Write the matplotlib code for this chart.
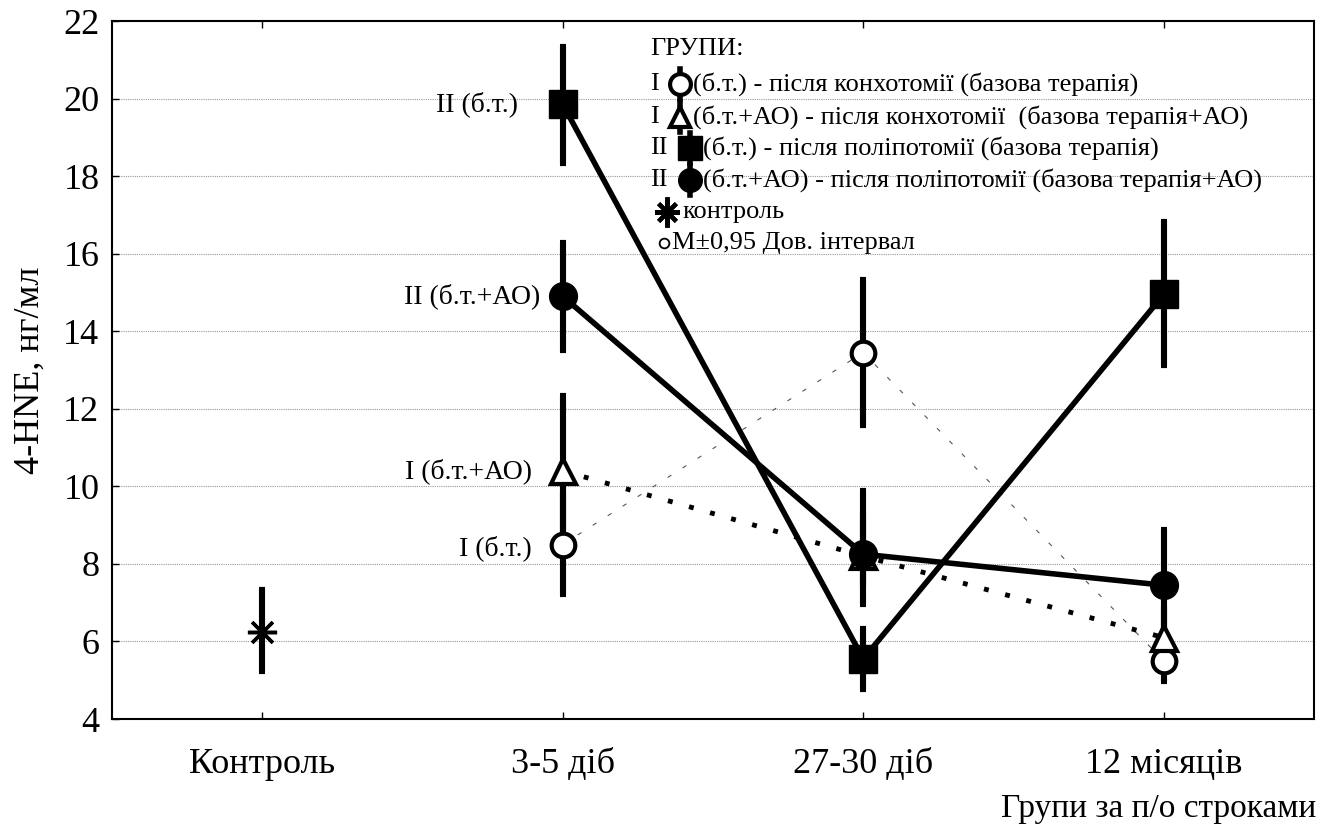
import numpy as np
import matplotlib
matplotlib.use("Agg")
import matplotlib.pyplot as plt

plt.rcParams['font.family'] = ['Liberation Serif', 'DejaVu Serif']

categories = ['Контроль', '3-5 діб', '27-30 діб', '12 місяців']

# контроль
control_mean = [6.25]
control_low = [5.2]
control_high = [7.35]

# I (б.т.) - open circle
i_bt_mean = [8.5, 13.45, 5.5]
i_bt_low = [7.2, 11.55, 4.95]
i_bt_high = [9.85, 15.35, 6.1]

# I (б.т.+АО) - triangle
i_ao_mean = [10.4, 8.2, 6.1]
i_ao_low = [8.5, 7.4, 5.3]
i_ao_high = [12.35, 9.3, 6.9]

# II (б.т.) - filled square
ii_bt_mean = [19.85, 5.55, 14.95]
ii_bt_low = [18.3, 4.75, 13.1]
ii_bt_high = [21.35, 6.35, 16.85]

# II (б.т.+АО) - filled circle
ii_ao_mean = [14.9, 8.25, 7.45]
ii_ao_low = [13.5, 6.95, 6.0]
ii_ao_high = [16.3, 9.9, 8.9]

legend_rows = [
    'ГРУПИ:',
    '(б.т.) - після конхотомії (базова терапія)',
    '(б.т.+АО) - після конхотомії  (базова терапія+АО)',
    '(б.т.) - після поліпотомії (базова терапія)',
    '(б.т.+АО) - після поліпотомії (базова терапія+АО)',
    'контроль',
    'M±0,95 Дов. інтервал',
]

W, H = 1331, 836
fig = plt.figure(figsize=(W / 100, H / 100), dpi=100)
ax = fig.add_axes([112 / W, 1 - 719 / H, (1314 - 112) / W, (719 - 21) / H])

x_ser = np.array([1, 2, 3])


def err(mean, low, high):
    mean = np.array(mean)
    return [mean - np.array(low), np.array(high) - mean]


eb_kw = dict(fmt='none', ecolor='black', elinewidth=4.4, capsize=2.2, capthick=3, zorder=3)

ax.errorbar([0], control_mean, yerr=err(control_mean, control_low, control_high), **eb_kw)
ax.errorbar(x_ser, i_bt_mean, yerr=err(i_bt_mean, i_bt_low, i_bt_high), **eb_kw)
ax.errorbar(x_ser, i_ao_mean, yerr=err(i_ao_mean, i_ao_low, i_ao_high), **eb_kw)
ax.errorbar(x_ser, ii_bt_mean, yerr=err(ii_bt_mean, ii_bt_low, ii_bt_high), **eb_kw)
ax.errorbar(x_ser, ii_ao_mean, yerr=err(ii_ao_mean, ii_ao_low, ii_ao_high), **eb_kw)

# connecting lines
ax.plot(x_ser, i_bt_mean, color='#555555', lw=0.8, ls=(0, (4, 12)), zorder=2)
ax.plot(x_ser, i_ao_mean, color='black', lw=3.5, ls=(0, (1, 3.5)), zorder=2)
ax.plot(x_ser, ii_bt_mean, color='black', lw=4, zorder=2)
ax.plot(x_ser, ii_ao_mean, color='black', lw=4, zorder=2)

# markers
ax.plot([0], control_mean, ls='none', marker=(8, 2, 0), ms=21, mew=2.5, color='black', zorder=5)
ax.plot(x_ser, i_bt_mean, ls='none', marker='o', ms=17, mew=3, mfc='white', mec='black', zorder=5)
ax.plot(x_ser, i_ao_mean, ls='none', marker='^', ms=18, mew=3, mfc='white', mec='black', zorder=5)
ax.plot(x_ser, ii_bt_mean, ls='none', marker='s', ms=20, color='black', zorder=5)
ax.plot(x_ser, ii_ao_mean, ls='none', marker='o', ms=20, color='black', zorder=6)

# point labels at 3-5 діб
lab_fs = 20
ax.annotate('II (б.т.)', (1, ii_bt_mean[0]), xytext=(-32, 0), textcoords='offset points',
            ha='right', va='center', fontsize=lab_fs)
ax.annotate('II (б.т.+АО)', (1, ii_ao_mean[0]), xytext=(-16, 0), textcoords='offset points',
            ha='right', va='center', fontsize=lab_fs)
ax.annotate('I (б.т.+АО)', (1, i_ao_mean[0]), xytext=(-22, 0), textcoords='offset points',
            ha='right', va='center', fontsize=lab_fs)
ax.annotate('I (б.т.)', (1, i_bt_mean[0]), xytext=(-22, -3), textcoords='offset points',
            ha='right', va='center', fontsize=lab_fs)

ax.set_xlim(-0.5, 3.5)
ax.set_ylim(4, 22)
ax.set_yticks(np.arange(4, 23, 2))
ax.set_xticks(range(4))
ax.set_xticklabels(categories)
ax.tick_params(axis='both', direction='in', labelsize=26, length=5, width=1)
ax.tick_params(axis='x', top=True, pad=21)
ax.tick_params(axis='y', pad=9)
for s in ax.spines.values():
    s.set_linewidth(1.5)
for yv in range(6, 22, 2):
    ax.axhline(yv, color='#999999', lw=0.8, ls=(0, (1, 1)), zorder=0)

fig.text(30 / W, 1 - 370 / H, '4-HNE, нг/мл', rotation=90, ha='center', va='center', fontsize=26)
fig.text(1316 / W, 1 - 809 / H, 'Групи за п/о строками', ha='right', va='center', fontsize=24)

# legend drawn by hand
def fx(px):
    return px / W


def fy(py):
    return 1 - py / H


leg_fs = 19
rows_y = [49, 84, 117, 148, 180, 212, 243]
fig.text(fx(650), fy(rows_y[0]), legend_rows[0], ha='left', va='center', fontsize=leg_fs)
sym = [
    ('I', 680, dict(marker='o', ms=15, mew=3, mfc='white', mec='black')),
    ('I', 680, dict(marker='^', ms=15, mew=3, mfc='white', mec='black')),
    ('II', 690, dict(marker='s', ms=17, color='black')),
    ('II', 690, dict(marker='o', ms=17, color='black')),
]
for i, (pref, sx, kw) in enumerate(sym):
    yy = rows_y[i + 1]
    fig.text(fx(650), fy(yy), pref, ha='left', va='center', fontsize=leg_fs)
    fig.add_artist(plt.Line2D([fx(sx), fx(sx)], [fy(yy - 15), fy(yy + 15)], color='black', lw=4, zorder=1))
    fig.add_artist(plt.Line2D([fx(sx)], [fy(yy)], ls='none', zorder=2, **kw))
    fig.text(fx(sx + 13), fy(yy), legend_rows[i + 1], ha='left', va='center', fontsize=leg_fs)
yy = rows_y[5]
fig.add_artist(plt.Line2D([fx(667), fx(667)], [fy(yy - 13), fy(yy + 13)], color='black', lw=3.5))
fig.add_artist(plt.Line2D([fx(667)], [fy(yy)], ls='none', marker=(8, 2, 0), ms=18, mew=3, color='black'))
fig.text(fx(682), fy(yy), legend_rows[5], ha='left', va='center', fontsize=leg_fs)
yy = rows_y[6]
fig.add_artist(plt.Line2D([fx(664)], [fy(yy)], ls='none', marker='o', ms=7, mew=1.3, mfc='white', mec='black'))
fig.text(fx(672), fy(yy), legend_rows[6], ha='left', va='center', fontsize=leg_fs)

fig.savefig('out.png', dpi=100)
